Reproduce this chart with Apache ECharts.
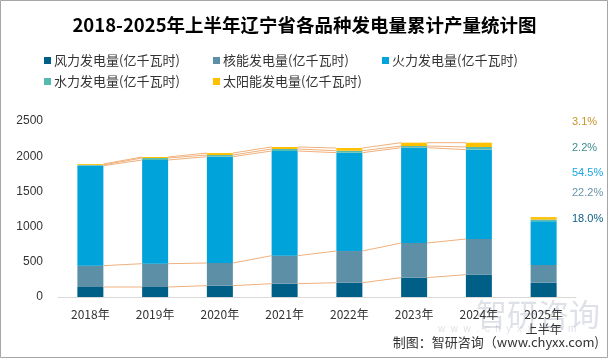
<!DOCTYPE html>
<html><head><meta charset="utf-8">
<script src="https://cdn.jsdelivr.net/npm/echarts@6/dist/echarts.min.js"></script>
<style>html,body{margin:0;padding:0;background:#fff}#c{width:609px;height:359px}</style>
</head><body><div id="c"></div>
<script>
const categories = ['2018年','2019年','2020年','2021年','2022年','2023年','2024年','2025年\n上半年'];
const seriesNames = ['风力发电量(亿千瓦时)','核能发电量(亿千瓦时)','火力发电量(亿千瓦时)','水力发电量(亿千瓦时)','太阳能发电量(亿千瓦时)'];
const wind    = [142, 142, 161, 189, 203, 275, 317, 204];
const nuclear = [303, 331, 322, 398, 450, 492, 507, 252];
const thermal = [1420, 1473, 1510, 1487, 1397, 1354, 1269, 619];
const hydro   = [12, 28, 24, 28, 28, 24, 38, 25];
const solar   = [12, 15, 28, 29, 38, 47, 61, 35];
const shareLabels = ['3.1%','2.2%','54.5%','22.2%','18.0%'];

const colors = ['#005F87','#5D90A7','#00A3DA','#56BAB0','#FFC000'];
const labelColors = ['#C8962D','#3E8C8C','#1AA6E0','#6A94AA','#0A5F85'];
const allSeries = [wind, nuclear, thermal, hydro, solar];

const lineData = [];
for (let s = 0; s < 5; s++) {
  for (let i = 0; i < 6; i++) {
    let a = 0, b = 0;
    for (let k = 0; k <= s; k++) { a += allSeries[k][i]; b += allSeries[k][i+1]; }
    lineData.push([i, a, b]);
  }
}

const chart = echarts.init(document.getElementById('c'));
const BW = 26;
const series = allSeries.map((d, i) => ({
  name: seriesNames[i], type: 'bar', stack: 'total', data: d,
  barWidth: BW, itemStyle: { color: colors[i] }
}));
series.push({
  type: 'custom', silent: true, z: 5, data: lineData,
  renderItem: function (params, api) {
    const i = api.value(0);
    const p1 = api.coord([i, api.value(1)]);
    const p2 = api.coord([i + 1, api.value(2)]);
    return { type: 'line', shape: { x1: p1[0] + BW/2, y1: p1[1], x2: p2[0] - BW/2, y2: p2[1] },
      style: { stroke: '#F0B07C', lineWidth: 1 } };
  }
});

const labelYs = [122, 148, 173, 193, 219];
const graphics = shareLabels.map((t, i) => ({
  type: 'text', left: 572, top: labelYs[i] - 6,
  style: { text: t, fill: labelColors[i], font: '11px "Liberation Sans", Arial, sans-serif' }
}));
graphics.push({ type: 'text', left: 476, top: 299, z: -1,
  style: { text: '智研咨询', fill: 'rgba(160,170,185,0.35)', font: '31px "Noto Sans CJK SC", sans-serif' } });
graphics.push({ type: 'text', left: 438, top: 324, z: -1,
  style: { text: 'w  w  w  .  c  h  y  x  x  .  c  o  m', fill: 'rgba(160,170,185,0.35)', font: '10px "Liberation Sans", sans-serif' } });
graphics.push({ type: 'text', right: 10, top: 336,
  style: { text: '制图：智研咨询（www.chyxx.com)', fill: '#333', font: '13px "Noto Sans CJK SC", sans-serif' } });
graphics.push({ type: 'rect', shape: { x: 0.5, y: 0.5, width: 607, height: 357 },
  style: { fill: 'none', stroke: '#A6A6A6', lineWidth: 1 } });

const legendPos = [[39, 49], [208, 49], [377, 49], [39, 70], [208, 70]];
const legends = seriesNames.map((n, i) => ({
  data: [n], left: legendPos[i][0], top: legendPos[i][1], itemWidth: 7, itemHeight: 7,
  icon: 'rect', itemGap: 0,
  textStyle: { fontSize: 13, color: '#333', padding: [0, 0, 0, -2], fontFamily: '"Noto Sans CJK SC", sans-serif' }
}));

chart.setOption({
  animation: false,
  title: { text: '2018-2025年上半年辽宁省各品种发电量累计产量统计图', left: 'center', top: 11,
    textStyle: { fontSize: 18.5, fontWeight: 'bold', color: '#000', fontFamily: '"Noto Sans CJK SC", sans-serif' } },
  legend: legends,
  grid: { left: 58, right: 33, top: 121, bottom: 62 },
  xAxis: { type: 'category', data: categories,
    axisLine: { lineStyle: { color: '#D9D9D9', width: 1 } }, axisTick: { show: false },
    axisLabel: { color: '#333', fontSize: 12, margin: 10, lineHeight: 15, fontFamily: '"Noto Sans CJK SC", sans-serif' } },
  yAxis: { type: 'value', min: 0, max: 2500, interval: 500,
    axisLine: { show: false }, axisTick: { show: false }, splitLine: { show: false },
    axisLabel: { color: '#333', fontSize: 12, margin: 15, formatter: v => String(v),
      fontFamily: '"Liberation Sans", Arial, sans-serif' } },
  graphic: graphics,
  series: series
});
</script></body></html>
